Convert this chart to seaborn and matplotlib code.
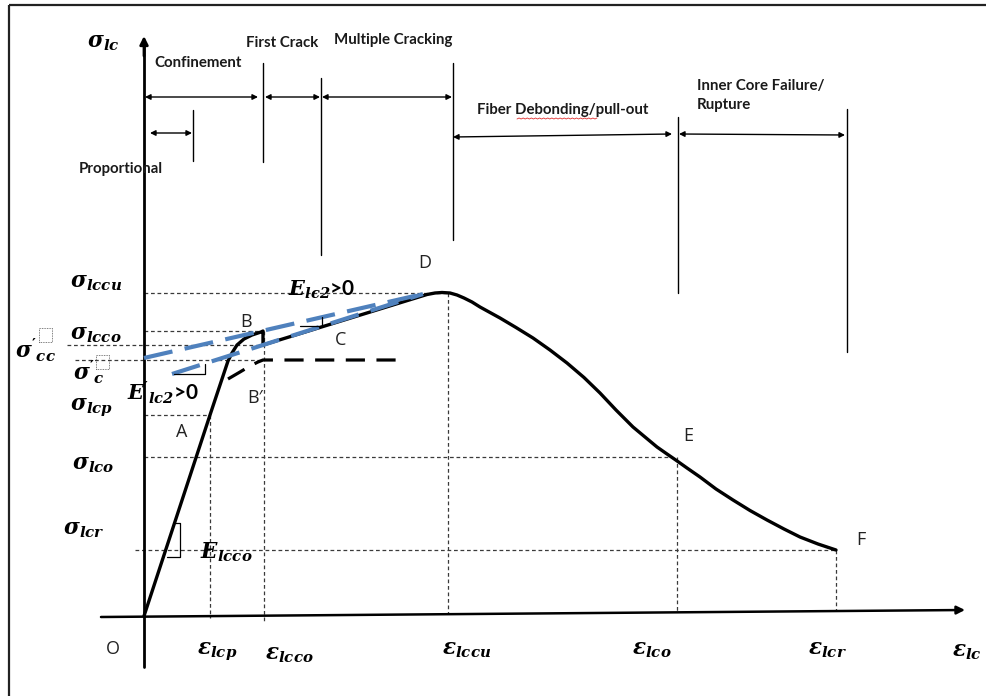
import numpy as np
import pandas as pd
import matplotlib
matplotlib.use("Agg")
import matplotlib.pyplot as plt
from matplotlib.patches import Rectangle
import seaborn as sns

# ---- schematic stress-strain data (strain / stress in arbitrary units) ----
# ascending branch O -> A -> B
rise_eps = [0, 66, 84, 88, 93, 100, 108, 117, 119]
rise_sig = [0, 201, 255, 263, 271, 277, 281, 284, 285]
# drop at first crack, hardening B -> C -> D, softening D -> E -> F
soft_eps = [119, 119, 283, 291, 298, 306, 313, 320, 328, 336, 346, 356, 372,
            389, 406, 423, 440, 456, 472, 489, 501, 513, 522, 531, 543, 556,
            572, 589, 606, 623, 640, 656, 674, 692]
soft_sig = [285, 271, 321.5, 323, 323.5, 323, 321, 318, 314, 309, 303.5, 298,
            288.5, 278, 266, 253, 238.5, 223, 206, 189, 179, 169, 162.7, 156.5,
            148, 139, 127, 116, 105.5, 96, 87, 79, 72, 66]
# unconfined branch B'
bprime_eps = [84, 96, 106, 114, 119, 254]
bprime_sig = [237, 244, 250, 254, 256, 256]
# tangent lines E'_lc2 and E_lc2
tan_upper_eps = [0, 279]
tan_upper_sig = [258, 322]
tan_lower_eps = [28, 279]
tan_lower_sig = [242, 322]

# characteristic strains and stresses
eps_lcp, eps_lcco, eps_lccu, eps_lco, eps_lcr = 66, 120, 304, 533, 692
sig_lccu, sig_lcco, sig_cc, sig_c = 323, 285, 271, 256
sig_lcp, sig_lco, sig_lcr = 201, 159, 66

# stage boundaries (x position, top, bottom)
bound_x = [49, 119, 177, 309, 534, 703]
bound_top = [506, 553, 538, 553, 499, 507]
bound_bot = [455, 454, 361, 376, 323, 264]

# ---- figure setup ----
sns.set_theme(style="white")
plt.rcParams["font.family"] = ["Lato", "DejaVu Sans"]
plt.rcParams["mathtext.fontset"] = "custom"
plt.rcParams["mathtext.it"] = "DejaVu Serif:italic:bold"
plt.rcParams["mathtext.rm"] = "DejaVu Serif:bold"
plt.rcParams["mathtext.bf"] = "DejaVu Serif:bold"
plt.rcParams["mathtext.bfit"] = "DejaVu Serif:italic:bold"

fig = plt.figure(figsize=(9.87, 6.96), dpi=100)
fig.patch.set_linewidth(0)
ax = fig.add_axes([0, 0, 1, 1])
ax.set_xlim(-144, 843)
ax.set_ylim(-80, 616)
ax.set_axis_off()

BLUE = "#4F81BD"
GRID = "#3a3a3a"

# frame lines of the drawing
ax.plot([-135, -135], [611, -80], color="#222222", lw=1.6, solid_capstyle="butt")
ax.plot([-135, 843], [611, 611], color="#222222", lw=1.6, solid_capstyle="butt")

# ---- reference (projection) lines ----
ref = dict(color=GRID, lw=0.9, dashes=(3, 2.2))
ax.plot([0, eps_lccu], [sig_lccu, sig_lccu], **ref)
ax.plot([eps_lccu, eps_lccu], [sig_lccu, 2], **ref)
ax.plot([0, 119], [sig_lcco, sig_lcco], **ref)
ax.plot([-77, 119], [sig_cc, sig_cc], **ref)
ax.plot([-69, 119], [sig_c, sig_c], **ref)
ax.plot([0, eps_lcp], [sig_lcp, sig_lcp], **ref)
ax.plot([eps_lcp, eps_lcp], [sig_lcp, -2], **ref)
ax.plot([eps_lcco, eps_lcco], [sig_lcco, -6], **ref)
ax.plot([0, 527], [sig_lco, sig_lco], **ref)
ax.plot([eps_lco, eps_lco], [sig_lco, 3], **ref)
ax.plot([-9, eps_lcr], [sig_lcr, sig_lcr], **ref)
ax.plot([eps_lcr, eps_lcr], [sig_lcr, 5], **ref)

# ---- axes with arrows ----
ax.plot([0, 0], [-51, 570], color="black", lw=2.0)
ax.annotate("", xy=(0, 580), xytext=(0, 560),
            arrowprops=dict(arrowstyle="-|>", color="black", lw=2.0,
                            mutation_scale=12, shrinkA=0, shrinkB=0))
ax.annotate("", xy=(821, 6), xytext=(-43, -1),
            arrowprops=dict(arrowstyle="-|>", color="black", lw=1.8,
                            mutation_scale=12, shrinkA=0, shrinkB=0))

# ---- curves ----
curve = pd.DataFrame({"eps": rise_eps + soft_eps, "sig": rise_sig + soft_sig})
sns.lineplot(data=curve, x="eps", y="sig", sort=False, estimator=None,
             color="black", lw=2.4, ax=ax)
ax.plot(bprime_eps, bprime_sig, color="black", lw=2.3, dashes=(6, 3.6))
ax.plot(tan_upper_eps, tan_upper_sig, color=BLUE, lw=3.0, dashes=(7, 3))
ax.plot(tan_lower_eps, tan_lower_sig, color=BLUE, lw=3.0, dashes=(7, 3))

# slope triangles
tri = dict(color="black", lw=0.9)
ax.plot([156, 178, 178], [290, 290, 299], **tri)
ax.plot([30, 61, 61], [242, 242, 252], **tri)
ax.plot([23, 36, 36, 31], [59, 59, 93, 93], **tri)

# ---- stage boundaries and spans ----
for bx, bt, bb in zip(bound_x, bound_top, bound_bot):
    ax.plot([bx, bx], [bt, bb], color="black", lw=1.0)

def span(x0, y0, x1, y1):
    ax.annotate("", xy=(x1, y1), xytext=(x0, y0),
                arrowprops=dict(arrowstyle="<|-|>", color="black", lw=1.0,
                                mutation_scale=8, shrinkA=0, shrinkB=0))

span(1, 519, 114, 519)
span(121, 519, 176, 519)
span(178, 519, 308, 519)
span(6, 483, 48, 483)
span(309, 479, 528, 482)
span(535, 482, 701, 481)

# ---- stage names ----
stage = dict(fontsize=10.8, fontweight="bold", color="#1a1a1a", ha="left", va="center")
ax.text(102, 573, "First Crack", **stage)
ax.text(190, 576, "Multiple Cracking", **stage)
ax.text(10, 553, "Confinement", **stage)
ax.text(-65, 447, "Proportional", **stage)
ax.text(333, 506, "Fiber Debonding/pull-out", **stage)
ax.text(553, 530, "Inner Core Failure/", **stage)
ax.text(553, 511, "Rupture", **stage)
# spelling squiggle under "Debonding"
sq_x = np.linspace(373, 453, 40)
ax.plot(sq_x, 497 + 1.0 * (np.arange(40) % 2), color="#e03030", lw=0.6)

# ---- point labels ----
pt = dict(fontsize=13, family=["Open Sans", "DejaVu Sans"], color="#222222",
          ha="left", va="center")
ax.text(-38, -33, "O", **pt)
ax.text(32, 184, "A", **pt)
ax.text(96, 294, "B", **pt)
ax.text(103, 218, "B\u2032", **pt)
ax.text(191, 276, "C", **pt)
ax.text(274, 353, "D", **pt)
ax.text(539, 180, "E", **pt)
ax.text(712, 76, "F", **pt)

# ---- symbol labels ----
def bi(base, sub, prime=False):
    p = "'" if prime else ""
    return r"$\mathbfit{%s}%s_{\mathbfit{%s}}$" % (base, p, sub)

sym = dict(fontsize=15.5, color="black", ha="left", va="center")
ax.text(-57, 573, bi(r"\sigma", "lc"), **sym)
ax.text(-74, 333, bi(r"\sigma", "lccu"), **sym)
ax.text(-74, 281, bi(r"\sigma", "lcco"), **sym)
ax.text(-129, 266, bi(r"\sigma", "cc", True), **sym)
ax.text(-71, 244, bi(r"\sigma", "c", True), **sym)
ax.text(-74, 208, bi(r"\sigma", "lcp"), **sym)
ax.text(-72, 151, bi(r"\sigma", "lco"), **sym)
ax.text(-81, 86, bi(r"\sigma", "lcr"), **sym)
ax.text(56, 64, bi("E", "lcco"), **sym)
lab = dict(fontsize=15, color="black", ha="left", va="center", fontweight="bold")
ax.text(144, 326, bi("E", "lc2") + ">0", **lab)
ax.text(-17, 223, bi("E", "lc2", True) + ">0", **lab)
ax.text(53, -36, bi(r"\varepsilon", "lcp"), **sym)
ax.text(121, -39, bi(r"\varepsilon", "lcco"), **sym)
ax.text(298, -34, bi(r"\varepsilon", "lccu"), **sym)
ax.text(488, -34, bi(r"\varepsilon", "lco"), **sym)
ax.text(664, -34, bi(r"\varepsilon", "lcr"), **sym)
ax.text(808, -36, bi(r"\varepsilon", "lc"), **sym)

# empty placeholder boxes beside the primes
box = dict(fill=False, ec="#555555", lw=0.6, ls=(0, (1, 1)))
ax.add_patch(Rectangle((-105, 274), 13, 14, **box))
ax.add_patch(Rectangle((-48, 247), 13, 14, **box))

fig.savefig("out.png", dpi=100, facecolor="white", edgecolor="none")
